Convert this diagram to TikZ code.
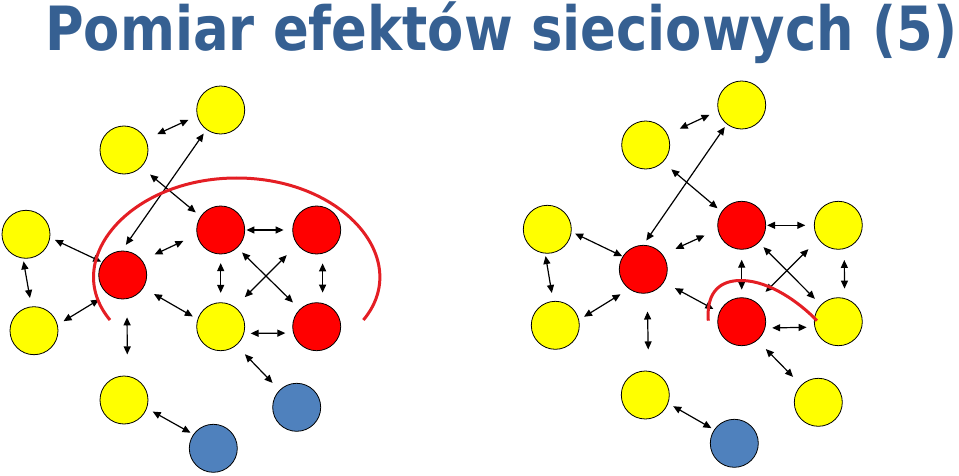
\documentclass[tikz,border=0pt]{standalone}
\usepackage{graphicx}
\usepackage{fontspec}
\newfontfamily\titlefont{DejaVu Sans}
\usetikzlibrary{arrows.meta}
\definecolor{titleblue}{RGB}{54,96,146}
\definecolor{nodeyellow}{RGB}{255,255,0}
\definecolor{nodered}{RGB}{255,0,0}
\definecolor{nodeblue}{RGB}{79,129,189}
\definecolor{arcred}{RGB}{228,30,36}
\tikzset{
  netnode/.style={circle, draw=black, line width=0.8pt, minimum size=48pt, inner sep=0pt},
  yc/.style={netnode, fill=nodeyellow},
  rc/.style={netnode, fill=nodered},
  bc/.style={netnode, fill=nodeblue},
  arr/.style={line width=1.2pt, {Triangle[length=8pt,width=7pt]}-{Triangle[length=8pt,width=7pt]}},
  groupline/.style={draw=arcred, line width=3pt}
}
\newcommand\conn[6]{\draw[arr, shorten <=#3pt, shorten >=#6pt] (#1.#2) -- (#4.#5);}
\begin{document}
\begin{tikzpicture}[x=1pt,y=-1pt]
\useasboundingbox (0,0) rectangle (959,476);
\node[anchor=base west, inner sep=0pt, text=titleblue] (title) at (45,50.7)
  {\resizebox{912pt}{\height}{\titlefont\bfseries\fontsize{61}{62}\selectfont Pomiar efektów sieciowych (5)}};

% left network
\node[yc] (LY1) at (220.7,110) {};
\node[yc] (LY2) at (124,150) {};
\node[yc] (LY3) at (26,234.3) {};
\node[yc] (LY4) at (34,330.7) {};
\node[rc] (LR1) at (122.7,275) {};
\node[rc] (LR2) at (220.7,230) {};
\node[rc] (LR3) at (316.7,230) {};
\node[yc] (LY5) at (220.7,326.7) {};
\node[rc] (LR4) at (316.7,326.7) {};
\node[yc] (LY6) at (124,400) {};
\node[bc] (LB1) at (296.7,407.3) {};
\node[bc] (LB2) at (213.3,448.3) {};

\conn{LY2}{26}{12.4}{LY1}{194}{9.4}
\conn{LR1}{92}{7}{LY1}{234}{4.7}
\conn{LY2}{315}{11.4}{LR2}{146}{6.1}
\conn{LY3}{352}{5.3}{LR1}{148}{0.9}
\conn{LY3}{263}{2.9}{LY4}{96}{8.6}
\conn{LY4}{14}{6.9}{LR1}{232}{10}
\conn{LR1}{37}{13.6}{LR2}{191.5}{14.8}
\conn{LR2}{0}{1.3}{LR3}{180}{8.7}
\conn{LR2}{270}{8.7}{LY5}{90}{9.4}
\conn{LR2}{313}{6.6}{LR4}{134}{9.5}
\conn{LR3}{217}{14.8}{LY5}{54}{13.8}
\conn{LR3}{284}{9.7}{LR4}{76}{10.4}
\conn{LR1}{328}{12.2}{LY5}{162}{5.4}
\conn{LY5}{344}{6.5}{LR4}{195}{7.8}
\conn{LR1}{280}{18.3}{LY6}{82.4}{21.4}
\conn{LY5}{310.5}{12.3}{LB1}{135}{9.9}
\conn{LY6}{340}{6.6}{LB2}{145}{3.2}

\draw[groupline] (110,320) .. controls (60,260) and (130,178) .. (236.7,178)
  .. controls (343.4,178) and (413.4,260) .. (363.4,320);

% right network
\node[yc] (RY1) at (741.7,105) {};
\node[yc] (RY2) at (645.7,145) {};
\node[yc] (RY3) at (547.3,229.3) {};
\node[yc] (RY4) at (555.3,325.3) {};
\node[rc] (RR1) at (643.3,269.3) {};
\node[rc] (RR2) at (741.7,225.3) {};
\node[yc] (RY7) at (838.3,225.3) {};
\node[rc] (RR3) at (741.7,321.7) {};
\node[yc] (RY8) at (838.3,321.7) {};
\node[yc] (RY6) at (645.3,395) {};
\node[yc] (RY9) at (818.3,402.3) {};
\node[bc] (RB) at (734.3,443.3) {};

\conn{RY2}{26.6}{13.3}{RY1}{194.4}{9.4}
\conn{RR1}{90}{5.3}{RY1}{232.4}{3.4}
\conn{RY2}{315.8}{10.9}{RR2}{146.7}{5.2}
\conn{RY3}{354}{3.9}{RR1}{148.5}{0.5}
\conn{RY3}{265}{2.5}{RY4}{95.4}{8.1}
\conn{RY4}{13.6}{5.8}{RR1}{234}{9.9}
\conn{RR1}{37.8}{14}{RR2}{190.5}{14.3}
\conn{RR2}{0}{1}{RY7}{180}{8.6}
\conn{RR2}{270}{10}{RR3}{90}{7.7}
\conn{RR2}{315.3}{6.4}{RY8}{136.1}{8.3}
\conn{RY7}{215.4}{14}{RR3}{55.1}{13.8}
\conn{RY7}{284}{11}{RY8}{75.5}{9.5}
\conn{RR1}{328.5}{12.4}{RR3}{157.6}{6.7}
\conn{RR3}{345.8}{6.9}{RY8}{193.8}{7.9}
\conn{RR1}{279.5}{18.1}{RY6}{82.8}{21.4}
\conn{RR3}{310.2}{12.1}{RY9}{135}{11.4}
\conn{RY6}{340.3}{5.7}{RB}{146.4}{3.1}

\draw[groupline] (708.3,320.7) .. controls (706,290) and (722,280) .. (742,280.5)
  .. controls (770,281) and (800,303) .. (817,320.7);
\end{tikzpicture}
\end{document}
